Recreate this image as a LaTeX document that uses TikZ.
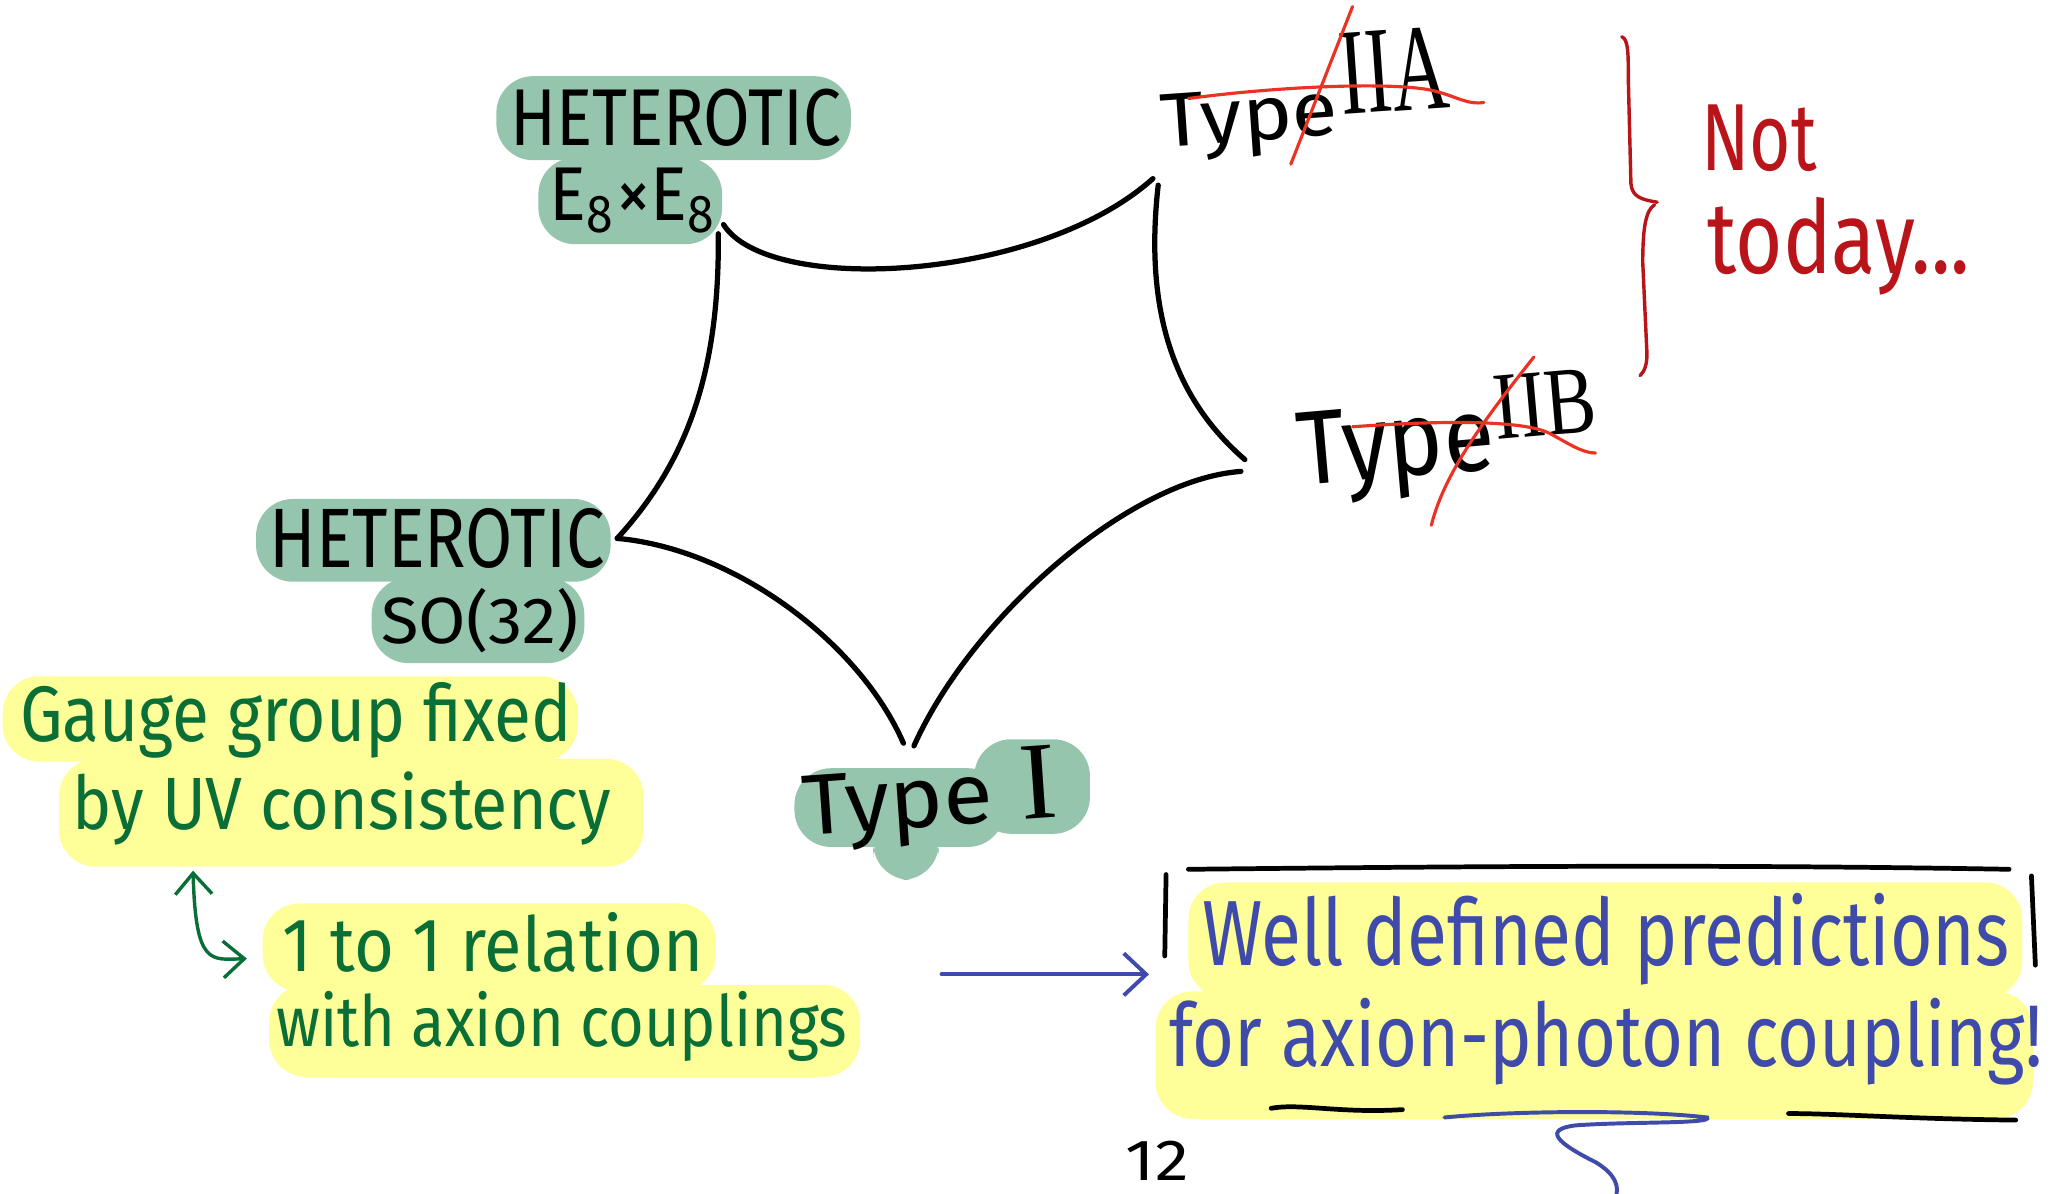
\documentclass[tikz,border=0pt]{standalone}
\usepackage{fontspec}
\setmainfont{Fira Sans}
\newfontfamily\romnum{Liberation Serif}
\usetikzlibrary{arrows.meta}
\newdimen\pxu \pxu=0.5pt
\newcommand{\R}[3]{\resizebox{#1\pxu}{#2\pxu}{#3}}
\newcommand{\Rh}[2]{\resizebox{!}{#1\pxu}{#2}}
\definecolor{blobgreen}{RGB}{150,197,174}
\definecolor{hlyellow}{RGB}{255,255,153}
\definecolor{txtgreen}{RGB}{10,110,55}
\definecolor{txtblue}{RGB}{63,75,170}
\definecolor{strikered}{RGB}{235,50,35}
\definecolor{darkred}{RGB}{185,20,25}
\begin{document}
\begin{tikzpicture}[x=0.5pt,y=-0.5pt,
  lbl/.style={inner sep=0pt, anchor=base west},
  hexline/.style={line width=2pt, line cap=round, black},
  strike/.style={strikered, line width=1.2pt, line cap=round},
  brace/.style={darkred, line width=1.3pt, line cap=round},
  boxline/.style={black, line width=1.8pt, line cap=round},
  gblob/.style={fill=blobgreen, rounded corners=14pt},
  yblob/.style={fill=hlyellow, rounded corners=14pt},
  bluearrow/.style={txtblue, line width=1.5pt, line cap=round, -{Straight Barb[length=8.5pt,width=16pt]}},
  greenarrow/.style={txtgreen, line width=1.3pt, line cap=round, {Straight Barb[length=8pt,width=14pt]}-{Straight Barb[length=8pt,width=14pt]}}
]
\useasboundingbox (0,0) rectangle (1568,909);
\fill[white] (0,0) rectangle (1568,909);

% --- highlight blobs ---
\fill[gblob] (378,58) rectangle (648,122);
\fill[gblob] (410,120) rectangle (550,186);
\fill[gblob] (195,380) rectangle (465,443);
\fill[gblob] (283,440) rectangle (445,505);
\fill[gblob] (605,585) rectangle (765,645);
\fill[gblob] (665,625) rectangle (715,670);
\fill[gblob] (742,563) rectangle (830,635);

\fill[yblob] (2,515) rectangle (440,580);
\fill[yblob] (45,578) rectangle (490,660);
\fill[yblob] (200,688) rectangle (545,755);
\fill[yblob] (205,750) rectangle (655,820);
\fill[yblob] (905,672) rectangle (1540,760);
\fill[yblob] (880,755) rectangle (1548,852);

% --- labels ---
\node[lbl] (hetA) at (388,111) {\R{252}{43}{HETEROTIC}};
\node[lbl] (e8) at (418,168) {\R{128}{40}{E\textsubscript{8}×E\textsubscript{8}}};
\node[lbl] (hetB) at (205,432) {\R{255}{45}{HETEROTIC}};
\node[lbl] (so) at (290,490) {\R{150}{42}{SO(32)}};
\node[lbl, rotate=4] (t1) at (612,636) {\R{145}{45}{Type}\kern22\pxu\Rh{55}{\romnum I}};
\node[lbl, rotate=4] (t2a) at (885,112) {\R{135}{40}{Type}\kern3\pxu\raisebox{15\pxu}{\R{83}{62}{\romnum IIA}}};
\node[lbl, rotate=5] (t2b) at (990,370) {\R{150}{55}{Type}\kern2\pxu\raisebox{22\pxu}{\R{78}{48}{\romnum IIB}}};
\node[lbl, text=darkred] (nt) at (1295,130) {\R{88}{50}{Not}};
\node[lbl, text=darkred] (td) at (1300,208) {\R{200}{58}{today...}};

\node[lbl, text=txtgreen] (g1) at (15,565) {\R{420}{45}{Gauge group fixed}};
\node[lbl, text=txtgreen] (g2) at (55,632) {\R{410}{44}{by UV consistency}};
\node[lbl, text=txtgreen] (r1) at (215,740) {\R{320}{45}{1 to 1 relation}};
\node[lbl, text=txtgreen] (r2) at (210,797) {\R{435}{42}{with axion couplings}};

\node[lbl, text=txtblue] (w1) at (915,735) {\R{615}{55}{Well defined predictions}};
\node[lbl, text=txtblue] (w2) at (890,812) {\R{665}{52}{for axion-photon coupling!}};
\node[lbl] (pg) at (857,899) {\R{48}{30}{12}};

% --- duality pentagon ---
\coordinate (vE8a) at (551,171);
\coordinate (vE8b) at (547,178);
\coordinate (vIIAa) at (878,136);
\coordinate (vIIAb) at (882,141);
\coordinate (vIIBa) at (948,350);
\coordinate (vIIBb) at (945,359);
\coordinate (vIa) at (696,568);
\coordinate (vIb) at (688,566);
\coordinate (vSO) at (470,410);

\draw[hexline] (vE8a) .. controls (585,225) and (790,215) .. (vIIAa);
\draw[hexline] (vIIAb) .. controls (872,230) and (890,300) .. (vIIBa);
\draw[hexline] (vIIBb) .. controls (860,365) and (740,470) .. (vIa);
\draw[hexline] (vIb) .. controls (655,490) and (560,418) .. (vSO);
\draw[hexline] (vSO) .. controls (525,350) and (548,280) .. (vE8b);

% --- strike-outs ---
\draw[strike] (905,75) .. controls (980,65) and (1070,62) .. (1095,70) .. controls (1110,74) and (1118,80) .. (1130,78);
\draw[strike] (1030,5) -- (983,125);
\draw[strike] (1030,325) .. controls (1100,320) and (1160,320) .. (1180,330) .. controls (1195,338) and (1205,345) .. (1215,345);
\draw[strike] (1168,272) .. controls (1130,320) and (1100,360) .. (1090,400);

% --- brace ---
\draw[brace] (1235,28) .. controls (1240,30) and (1240,40) .. (1240,60) -- (1242,140) .. controls (1243,150) and (1250,152) .. (1262,154);
\draw[brace] (1260,156) .. controls (1253,160) and (1251,175) .. (1251,200) -- (1254,265) .. controls (1255,278) and (1252,283) .. (1249,286);

% --- box around conclusion ---
\draw[boxline] (905,662) .. controls (1100,660) and (1300,658) .. (1530,662);
\draw[boxline] (888,666) -- (887,728);
\draw[boxline] (1547,667) -- (1550,735);
\draw[boxline] (968,844) .. controls (990,840) and (1020,848) .. (1068,845);
\draw[boxline] (1362,848) .. controls (1400,848) and (1450,852) .. (1535,853);
\draw[txtblue, line width=1.5pt, line cap=round] (1100,851) .. controls (1150,846) and (1250,845) .. (1300,851) .. controls (1305,856) and (1240,854) .. (1200,857) .. controls (1175,860) and (1185,870) .. (1215,885) .. controls (1232,895) and (1232,905) .. (1231,909);

% --- arrows ---
\coordinate (arrS) at (717,742);
\coordinate (arrE) at (875,742);
\draw[bluearrow] (arrS) -- (arrE);
\coordinate (gS) at (147,663);
\coordinate (gE) at (188,730);
\draw[greenarrow] (gS) .. controls (149,735) and (160,731) .. (gE);
\end{tikzpicture}
\end{document}
